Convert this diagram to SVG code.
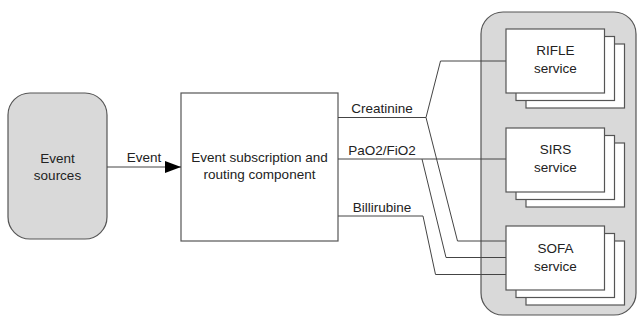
<svg xmlns="http://www.w3.org/2000/svg" width="638" height="323" viewBox="0 0 638 323">
  <style>
    text { font-family: "Liberation Sans", Arial, sans-serif; font-size: 13.5px; fill: #222; text-anchor: middle; }
    .shape { stroke: #555; stroke-width: 1.2; }
    .grey { fill: #d9d9d9; }
    .white { fill: #fff; }
    .wire { fill: none; stroke: #444; stroke-width: 1; }
  </style>
  <defs>
    <marker id="arrow" markerWidth="16" markerHeight="12" refX="16" refY="6" orient="auto" markerUnits="userSpaceOnUse">
      <path d="M0,0 L16,6 L0,12 z" fill="#000"/>
    </marker>
    <!-- stacked service card: three offset rectangles -->
    <g id="stack">
      <rect class="shape white" x="20" y="15" width="98.5" height="64"/>
      <rect class="shape white" x="10" y="7.5" width="98.5" height="64"/>
      <rect class="shape white" x="0" y="0" width="98.5" height="64"/>
    </g>
  </defs>

  <g id="event-sources">
    <rect class="shape grey" x="8" y="93" width="99" height="146" rx="22"/>
    <text x="57.5" y="163">Event</text>
    <text x="57.5" y="180">sources</text>
  </g>

  <g id="services-container">
    <rect class="shape grey" x="481" y="12" width="155" height="303" rx="22"/>
  </g>

  <g id="router">
    <rect class="shape white" x="181" y="93" width="157" height="148"/>
    <text x="259.5" y="162">Event subscription and</text>
    <text x="259.5" y="179">routing component</text>
  </g>

  <g id="connectors">
    <line class="wire" x1="107" y1="167" x2="181" y2="167" stroke="#333" marker-end="url(#arrow)"/>
    <text x="144" y="162">Event</text>

    <!-- Creatinine -->
    <polyline class="wire" points="338,117.5 426,117.5 440.5,61 506,61"/>
    <polyline class="wire" points="426,117.5 457.5,241 506,241"/>
    <text x="382" y="113">Creatinine</text>

    <!-- PaO2/FiO2 -->
    <polyline class="wire" points="338,159 506,159"/>
    <polyline class="wire" points="422,159 446,257.5 506,257.5"/>
    <text x="382" y="155">PaO2/FiO2</text>

    <!-- Billirubine -->
    <polyline class="wire" points="338,216 423,216 435.5,274.5 506,274.5"/>
    <text x="382" y="212">Billirubine</text>
  </g>

  <g id="rifle-service">
    <use href="#stack" x="506" y="29"/>
    <text x="555.5" y="55">RIFLE</text>
    <text x="555.5" y="73">service</text>
  </g>

  <g id="sirs-service">
    <use href="#stack" x="506" y="128"/>
    <text x="555.5" y="154">SIRS</text>
    <text x="555.5" y="172">service</text>
  </g>

  <g id="sofa-service">
    <use href="#stack" x="506" y="226"/>
    <text x="555.5" y="253">SOFA</text>
    <text x="555.5" y="271">service</text>
  </g>
</svg>
